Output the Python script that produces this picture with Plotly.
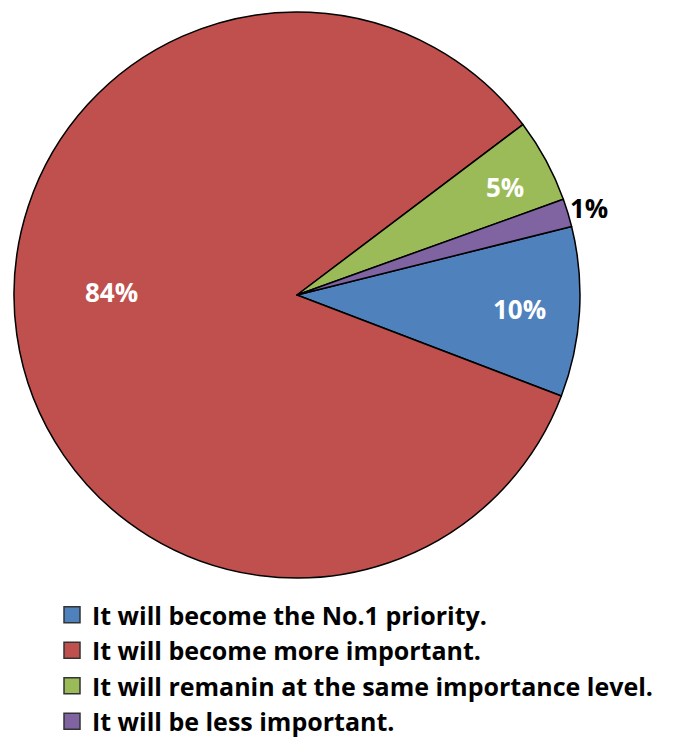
import plotly.graph_objects as go

categories = [
    "It will become the No.1 priority.",
    "It will become more important.",
    "It will remanin at the same importance level.",
    "It will be less important.",
]
values = [9.7, 83.9, 4.8, 1.6]
value_labels = ["10%", "84%", "5%", "1%"]
colors = ["#4F81BD", "#C0504D", "#9BBB59", "#8064A2"]

W, H = 686, 743
cx, cy, r = 297, 295, 283
FONT = "Open Sans"

# label placement (pixel offsets from pie centre), style only
label_offsets = [(222, 14), (-186, -3), (208, -108), (292, -87)]
label_colors = ["white", "white", "white", "black"]

fig = go.Figure(go.Pie(
    labels=categories,
    values=values,
    textinfo="none",
    sort=False,
    direction="clockwise",
    rotation=76,
    marker=dict(colors=colors, line=dict(color="black", width=1.5)),
    domain=dict(x=[(cx - r) / W, (cx + r) / W], y=[1 - (cy + r) / H, 1 - (cy - r) / H]),
    hoverinfo="label+percent",
    showlegend=False,
))

# legend entries with larger square swatches
for cat, col in zip(categories, colors):
    fig.add_trace(go.Scatter(
        x=[None], y=[None], mode="markers", name=cat,
        marker=dict(symbol="square", size=16, color=col, line=dict(color="#333333", width=1.5)),
        hoverinfo="skip",
    ))

for txt, (dx, dy), tc in zip(value_labels, label_offsets, label_colors):
    fig.add_annotation(
        x=(cx + dx) / W, y=1 - (cy + dy) / H, xref="paper", yref="paper",
        text=txt, showarrow=False, xanchor="center", yanchor="middle",
        font=dict(family=FONT, size=26, color=tc, weight="bold"),
    )

fig.update_layout(
    width=W, height=H,
    margin=dict(l=0, r=0, t=0, b=0, autoexpand=False),
    paper_bgcolor="white",
    plot_bgcolor="white",
    xaxis=dict(visible=False),
    yaxis=dict(visible=False),
    showlegend=True,
    legend=dict(
        x=52 / W, y=1 - 592 / H, xanchor="left", yanchor="top",
        font=dict(family=FONT, size=25, color="black", weight="bold"),
        traceorder="normal",
        itemwidth=30,
        tracegroupgap=0,
        bgcolor="rgba(0,0,0,0)",
    ),
)

fig.write_html("out.html")
